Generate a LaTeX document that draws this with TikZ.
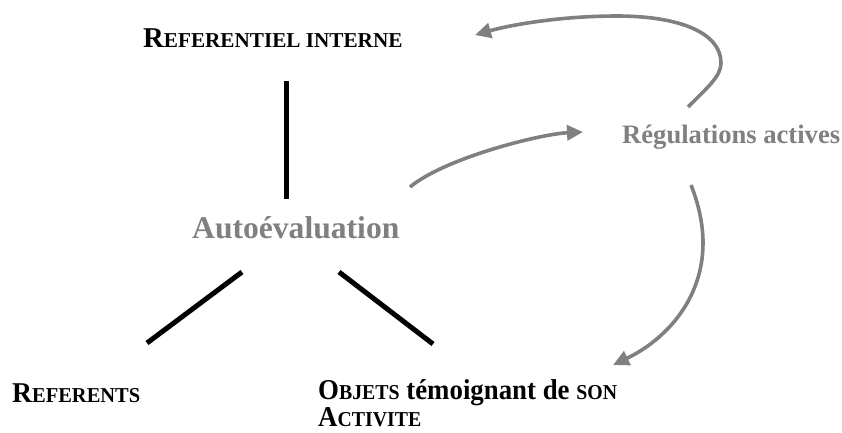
\documentclass[tikz,border=0pt]{standalone}
\usepackage{fontspec}
\setmainfont{Liberation Serif}
\usetikzlibrary{arrows.meta}
\definecolor{txtgray}{RGB}{128,128,128}
\definecolor{arrgray}{RGB}{128,128,128}
\newcommand\bigc[1]{{\fontsize{28.7}{28.7}\selectfont #1}}
\newcommand\smc[1]{{\fontsize{21.2}{21.2}\selectfont #1}}
\tikzset{
  lbl/.style={inner sep=0pt, anchor=base west, font=\bfseries},
  blackline/.style={line width=5pt, black},
  grayarrow/.style={line width=3.6pt, arrgray, -{Triangle[length=16pt,width=15pt]}},
}
\begin{document}
\begin{tikzpicture}[x=1pt,y=-1pt]
\useasboundingbox (0,0) rectangle (842,432);
% texts
\node[lbl] (ref) at (143,47) {\bigc{R}\smc{EFERENTIEL INTERNE}};
\node[lbl, text=txtgray, font=\bfseries\fontsize{31.6}{31.6}\selectfont] (auto) at (192,238) {Autoévaluation};
\node[lbl, text=txtgray, font=\bfseries\fontsize{26.6}{26.6}\selectfont] (regul) at (622,143) {Régulations actives};
\node[lbl] (referents) at (12,402) {\scalebox{0.965}[1]{\bigc{R}\smc{EFERENTS}}};
\node[lbl] (objets) at (318,399) {\scalebox{0.935}[1]{\bigc{O}\smc{BJETS}\bigc{ témoignant de }\smc{SON}}};
\node[lbl] (activ) at (318,426) {\scalebox{0.935}[1]{\bigc{A}\smc{CTIVITE}}};
% line end points
\coordinate (v1) at (286,81);
\coordinate (v2) at (286,199);
\coordinate (l1) at (242,272);
\coordinate (l2) at (147,343);
\coordinate (r1) at (339,272);
\coordinate (r2) at (433,344);
\draw[blackline] (v1) -- (v2);
\draw[blackline] (l1) -- (l2);
\draw[blackline] (r1) -- (r2);
% arrows
\coordinate (b0) at (410,187);
\coordinate (b1) at (583,132);
\draw[grayarrow] (b0) .. controls (445,158) and (540,134) .. (b1);
\coordinate (a0) at (688,107);
\coordinate (a1) at (721,63);
\coordinate (a2) at (617,16);
\coordinate (a3) at (475,35);
\draw[grayarrow] (a0) .. controls (708,87) and (721,76) .. (a1)
  .. controls (721,33) and (680,16) .. (a2)
  .. controls (560,16) and (510,25) .. (a3);
\coordinate (c0) at (691,185);
\coordinate (c1) at (703,243);
\coordinate (c2) at (613,365);
\draw[grayarrow] (c0) .. controls (699,205) and (703,225) .. (c1)
  .. controls (703,300) and (665,340) .. (c2);
\end{tikzpicture}
\end{document}
